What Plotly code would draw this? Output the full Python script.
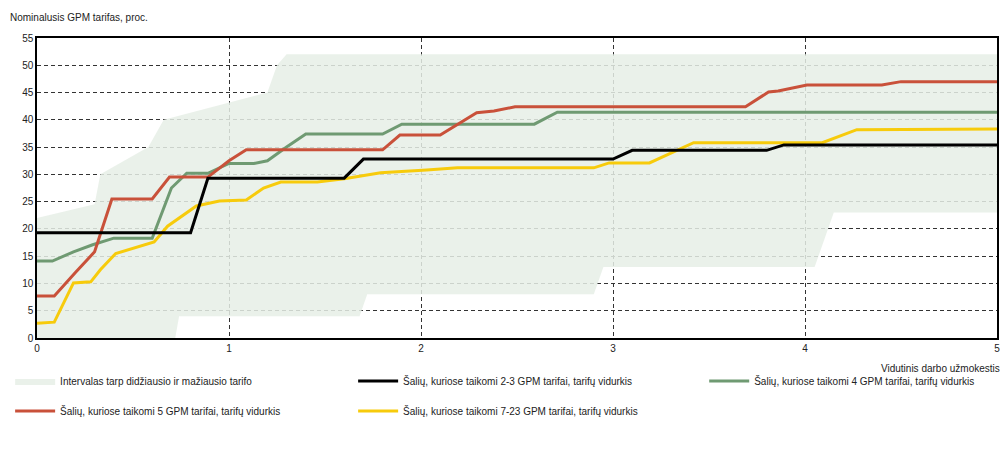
import plotly.graph_objects as go

# band between highest and lowest tariff
band_upper_x = [0, 0.3, 0.33, 0.58, 0.66, 1.2, 1.25, 1.3, 5]
band_upper_y = [22, 24.5, 30, 35, 40, 45, 50, 52, 52]
band_lower_x = [0, 0.72, 0.74, 1.68, 1.72, 2.9, 2.95, 4.05, 4.15, 5]
band_lower_y = [0, 0, 4, 4, 8, 8, 13, 13, 23, 23]

# 2-3 tariffs
black_x = [0, 0.8, 0.89, 1.6, 1.7, 3.0, 3.1, 3.8, 3.89, 5]
black_y = [19.3, 19.3, 29.3, 29.3, 32.8, 32.8, 34.4, 34.4, 35.4, 35.4]

# 4 tariffs
green_x = [0, 0.08, 0.19, 0.29, 0.4, 0.6, 0.7, 0.78, 0.89, 1.0, 1.13, 1.2, 1.3, 1.4,
           1.8, 1.9, 2.59, 2.71, 5]
green_y = [14.1, 14.1, 15.8, 17.1, 18.3, 18.3, 27.5, 30.2, 30.2, 32, 32, 32.5, 35, 37.4,
           37.4, 39.2, 39.2, 41.4, 41.4]

# 5 tariffs
red_x = [0, 0.09, 0.2, 0.3, 0.39, 0.6, 0.69, 0.89, 1.0, 1.09, 1.8, 1.89, 2.1, 2.29, 2.38,
         2.49, 3.69, 3.81, 3.86, 4.01, 4.4, 4.5, 5]
red_y = [7.7, 7.7, 12, 15.8, 25.5, 25.5, 29.5, 29.5, 32.5, 34.5, 34.5, 37.2, 37.2, 41.3,
         41.6, 42.4, 42.4, 45.1, 45.3, 46.4, 46.4, 47, 47]

# 7-23 tariffs
yellow_x = [0, 0.09, 0.19, 0.28, 0.33, 0.41, 0.61, 0.68, 0.83, 0.95, 1.09, 1.18, 1.27,
            1.46, 1.6, 1.79, 2.03, 2.19, 2.9, 2.98, 3.19, 3.42, 4.09, 4.27, 5]
yellow_y = [2.7, 2.9, 10.1, 10.3, 12.5, 15.5, 17.6, 20.5, 24.2, 25.1, 25.3, 27.5, 28.6,
            28.6, 29.2, 30.3, 30.8, 31.2, 31.2, 32.1, 32.1, 35.8, 35.8, 38.2, 38.3]

FONT = "Liberation Sans, Arial, sans-serif"

fig = go.Figure()

fig.add_trace(go.Scatter(
    x=band_upper_x + band_lower_x[::-1],
    y=band_upper_y + band_lower_y[::-1],
    fill="toself", fillcolor="rgba(230,239,230,0.85)",
    line=dict(width=0), mode="lines",
    name="Intervalas tarp didžiausio ir mažiausio tarifo",
    legend="legend", legendrank=1, hoverinfo="skip",
))
fig.add_trace(go.Scatter(
    x=yellow_x, y=yellow_y, mode="lines",
    line=dict(color="#f7cb0c", width=3),
    name="Šalių, kuriose taikomi 7-23 GPM tarifai, tarifų vidurkis",
    legend="legend2", legendrank=2,
))
fig.add_trace(go.Scatter(
    x=green_x, y=green_y, mode="lines",
    line=dict(color="#6f9a72", width=3),
    name="Šalių, kuriose taikomi 4 GPM tarifai, tarifų vidurkis",
    legend="legend3",
))
fig.add_trace(go.Scatter(
    x=red_x, y=red_y, mode="lines",
    line=dict(color="#c9513a", width=3),
    name="Šalių, kuriose taikomi 5 GPM tarifai, tarifų vidurkis",
    legend="legend2", legendrank=1,
))
fig.add_trace(go.Scatter(
    x=black_x, y=black_y, mode="lines",
    line=dict(color="#000000", width=3),
    name="Šalių, kuriose taikomi 2-3 GPM tarifai, tarifų vidurkis",
    legend="legend", legendrank=2,
))

leg = dict(orientation="h", xanchor="left", yanchor="top", itemwidth=40,
           font=dict(size=10), bgcolor="rgba(0,0,0,0)")

# page body has an 8px margin, so the figure is 8px smaller each way
fig.update_layout(
    width=1000, height=442,
    margin=dict(l=29, r=11, t=30, b=112, autoexpand=False),
    paper_bgcolor="white", plot_bgcolor="white",
    font=dict(family=FONT, size=10, color="#222"),
    xaxis=dict(
        range=[0, 5], dtick=1, showgrid=True,
        gridcolor="#333", griddash="4px,3px", gridwidth=1,
        showline=True, linecolor="#000", linewidth=1.5, mirror=True,
        ticks="", tickfont=dict(size=10), zeroline=False, automargin=False,
    ),
    yaxis=dict(
        range=[0, 55], dtick=5, showgrid=True,
        gridcolor="#333", griddash="4px,3px", gridwidth=1,
        showline=True, linecolor="#000", linewidth=1.5, mirror=True,
        ticks="", tickfont=dict(size=10), zeroline=False, automargin=False,
    ),
    legend=dict(leg, x=-0.028, y=-0.095, entrywidth=288, entrywidthmode="pixels"),
    legend2=dict(leg, x=-0.028, y=-0.195, entrywidth=288, entrywidthmode="pixels"),
    legend3=dict(leg, x=0.695, y=-0.095),
    annotations=[
        dict(text="Nominalusis GPM tarifas, proc.", xref="paper", yref="paper",
             x=-0.03, y=1.067, xanchor="left", yanchor="middle",
             showarrow=False, font=dict(size=10)),
        dict(text="Vidutinis darbo užmokestis", xref="paper", yref="paper",
             x=1.005, y=-0.1, xanchor="right", yanchor="middle",
             showarrow=False, font=dict(size=10)),
    ],
    showlegend=True,
)

fig.write_html("out.html")
